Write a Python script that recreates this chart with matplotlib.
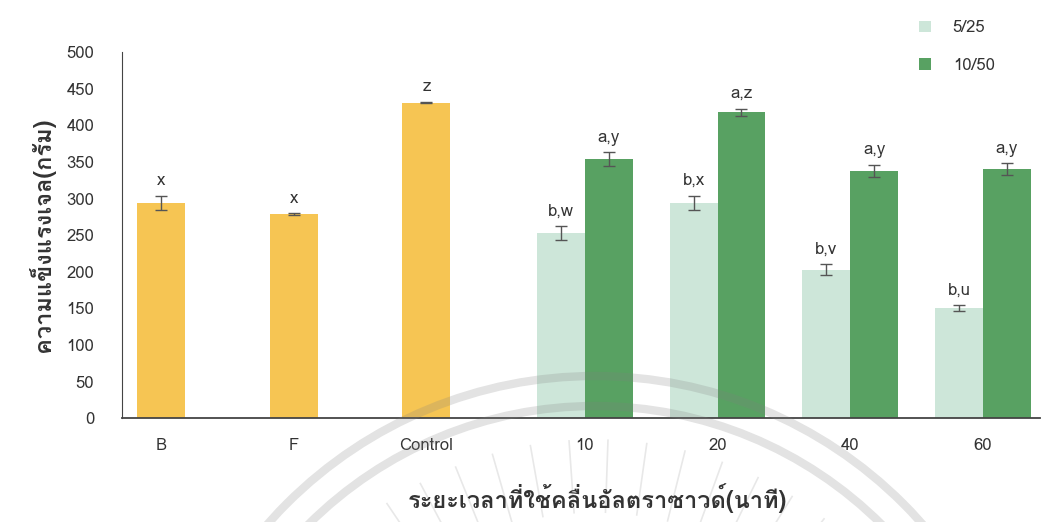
import numpy as np
import matplotlib
matplotlib.use('Agg')
import matplotlib.pyplot as plt
from matplotlib import font_manager
from matplotlib.ft2font import FT2Font
from matplotlib.patches import Circle

# gel strength (g) of the three reference samples
ref_labels = ['B', 'F', 'Control']
ref_values = [294, 279, 431]
ref_err = [10, 1, 1]
ref_marks = ['x', 'x', 'z']

# ultrasound time (min) with two treatment levels
time_labels = ['10', '20', '40', '60']
low_values = [253, 294, 203, 150]     # 5/25
low_err = [9, 10, 8, 4]
low_marks = ['b,w', 'b,x', 'b,v', 'b,u']
high_values = [354, 418, 338, 340]    # 10/50
high_err = [9, 5, 8, 8]
high_marks = ['a,y', 'a,z', 'a,y', 'a,y']

series_names = ['5/25', '10/50']
ylabel = 'ความแข็งแรงเจล(กรัม)'
xlabel = 'ระยะเวลาที่ใช้คลื่นอัลตราซาวด์(นาที)'

# find an installed font that can draw Thai
thai_font = None
for f in font_manager.fontManager.ttflist:
    try:
        if 0x0E01 in FT2Font(f.fname).get_charmap():
            thai_font = f.name
            break
    except Exception:
        pass
families = ([thai_font] if thai_font else []) + ['DejaVu Sans']
plt.rcParams['font.family'] = families

yellow = '#F6C553'
light = '#CDE6D9'
dark = '#58A162'
txt = '#333333'

fig = plt.figure(figsize=(10.42, 5.22), dpi=100)
ax = fig.add_axes([0.117, 0.199, 0.881, 0.701])

w = 0.36
off = 0.18
x_ref = np.arange(len(ref_labels)) - 0.195
x_time = np.arange(len(time_labels)) + len(ref_labels)

ekw = dict(ecolor='#555555', capsize=4, elinewidth=1)
ax.bar(x_ref, ref_values, w, yerr=ref_err, color=yellow, error_kw=ekw)
ax.bar(x_time - off, low_values, w, yerr=low_err, color=light,
       error_kw=ekw, label=series_names[0])
ax.bar(x_time + off, high_values, w, yerr=high_err, color=dark,
       error_kw=ekw, label=series_names[1])

# letters above the error bars
for xs, vals, errs, marks in [(x_ref, ref_values, ref_err, ref_marks),
                              (x_time - off, low_values, low_err, low_marks),
                              (x_time + off, high_values, high_err, high_marks)]:
    for xi, v, e, m in zip(xs, vals, errs, marks):
        ax.text(xi, v + e + 9, m, ha='center', va='bottom',
                fontsize=12, color=txt)

ax.set_xlim(-0.49, 6.43)
ax.set_ylim(0, 500)
ax.set_yticks(np.arange(0, 501, 50))
ax.set_xticks(list(x_ref) + list(x_time))
ax.set_xticklabels(ref_labels + time_labels)
ax.tick_params(axis='y', length=0, pad=20, labelsize=12, labelcolor=txt)
ax.tick_params(axis='x', length=0, pad=14, labelsize=12, labelcolor=txt)
for s in ['top', 'right']:
    ax.spines[s].set_visible(False)
ax.spines['left'].set_color('#444444')
ax.spines['bottom'].set_color('#444444')
ax.spines['bottom'].set_linewidth(1.3)

ax.set_ylabel(ylabel, fontsize=17, fontweight='bold', color=txt, labelpad=8)
fig.text(0.573, 0.045, xlabel, fontsize=17, fontweight='bold', color=txt,
         ha='center', va='center')

fig.legend(loc='upper left', bbox_to_anchor=(0.868, 0.99), frameon=False,
           fontsize=12, handlelength=0.7, handleheight=0.7,
           labelspacing=1.3, handletextpad=1.3, labelcolor=txt)

# faint watermark seal over the lower part of the chart
wm = fig.add_axes([0, 0, 1, 1], facecolor='none')
wm.set_xlim(0, 1042)
wm.set_ylim(522, 0)
wm.axis('off')
for r in [436, 406]:
    wm.add_patch(Circle((595, 812), r, fill=False, lw=6,
                        ec='#808080', alpha=0.22))
for ang in np.arange(46, 135, 6):
    a = np.deg2rad(ang)
    r0, r1 = 300, 372
    wm.plot([595 + r0 * np.cos(a), 595 + r1 * np.cos(a)],
            [812 - r0 * np.sin(a), 812 - r1 * np.sin(a)],
            color='#808080', alpha=0.18, lw=1.2)

fig.savefig('out.png', dpi=100)
